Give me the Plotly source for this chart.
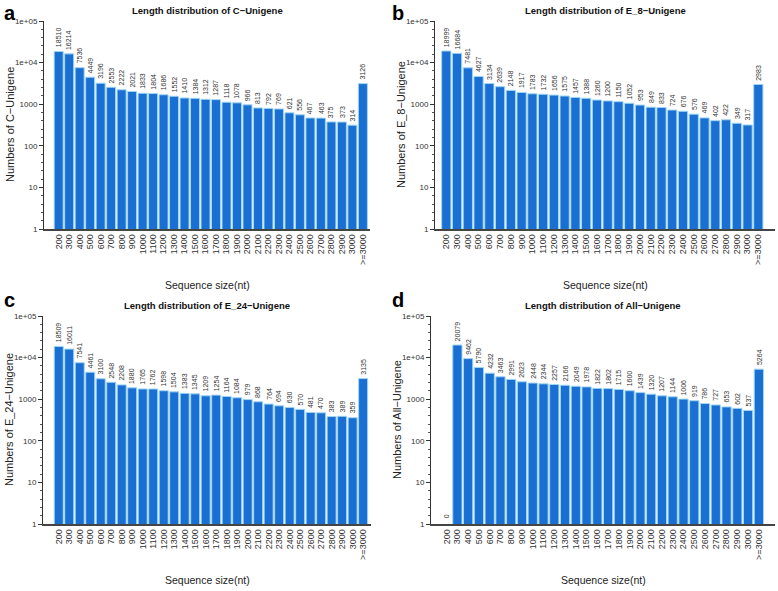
import math
import plotly.graph_objects as go

categories = [str(v) for v in range(200, 3001, 100)] + [">=3000"]

c_unigene = [18510, 16214, 7536, 4449, 3196, 2553, 2222, 2021, 1833, 1804, 1686, 1552, 1410, 1384,
             1312, 1287, 1118, 1078, 966, 813, 792, 769, 621, 556, 467, 463, 375, 373, 314, 3126]
e8_unigene = [18999, 16684, 7481, 4627, 3134, 2639, 2148, 1917, 1783, 1732, 1656, 1575, 1457, 1388,
              1260, 1200, 1150, 1052, 953, 849, 833, 724, 676, 576, 469, 402, 422, 349, 317, 2983]
e24_unigene = [18509, 16011, 7541, 4461, 3100, 2548, 2208, 1880, 1765, 1762, 1598, 1504, 1383, 1345,
               1209, 1254, 1164, 1084, 979, 868, 764, 694, 630, 570, 481, 470, 383, 389, 359, 3135]
all_unigene = [0, 20079, 9462, 5790, 4232, 3463, 2991, 2623, 2448, 2344, 2257, 2166, 2049, 1978,
               1822, 1802, 1715, 1600, 1439, 1320, 1207, 1144, 1006, 919, 786, 727, 653, 602, 537, 5264]

titles = ["Length distribution of C\u2212Unigene", "Length distribution of E_8\u2212Unigene",
          "Length distribution of E_24\u2212Unigene", "Length distribution of All\u2212Unigene"]
ylabels = ["Numbers of C\u2212Unigene", "Numbers of E_8\u2212Unigene",
           "Numbers of E_24\u2212Unigene", "Numbers of All\u2212Unigene"]
xlabel = "Sequence size(nt)"
letters = ["a", "b", "c", "d"]
ytickvals = [1, 10, 100, 1000, 10000, 100000]
yticktext = ["1", "10", "100", "1000", "1e+04", "1e+05"]

W, H = 778, 591
FONT = "Liberation Sans, Arial, sans-serif"

# panel geometry in pixels: (x_left, x_right, y_top, y_bottom, xrange)
panels = [
    (44, 370, 21, 229, [-1.4, 29.68]),
    (435, 775, 21, 229, [-1.05, 30.55]),
    (43, 371, 316, 524, [-1.5, 29.75]),
    (431, 775, 316, 524, [-1.45, 30.5]),
]
series = [c_unigene, e8_unigene, e24_unigene, all_unigene]

minor_vals = []
for k in range(5):
    for f in [0.2, 0.4, 0.6, 0.8]:
        minor_vals.append(10 ** (k + f))

fig = go.Figure()
annotations = []
layout = {}
for i, (vals, (xl, xr, yt, yb, xr_range)) in enumerate(zip(series, panels)):
    n = "" if i == 0 else str(i + 1)
    xa, ya = "x" + n, "y" + n
    fig.add_trace(go.Bar(
        x=categories, y=[v if v > 0 else None for v in vals],
        xaxis=xa, yaxis=ya,
        marker=dict(color="#1a6fd2", line=dict(color="#9fd6f5", width=1)),
        showlegend=False, hoverinfo="x+y",
    ))
    layout["xaxis" + n] = dict(
        domain=[xl / W, xr / W], anchor=ya, range=xr_range, type="category",
        tickmode="array", tickvals=categories, ticktext=categories,
        tickangle=-90, tickfont=dict(size=9, color="#333", family=FONT),
        showline=True, linecolor="#444", linewidth=1.5, ticks="", showgrid=False,
        zeroline=False, fixedrange=True, automargin=False,
    )
    layout["yaxis" + n] = dict(
        domain=[1 - yb / H, 1 - yt / H], anchor=xa, type="log", range=[0, 5],
        tickvals=ytickvals, ticktext=yticktext, ticks="outside", ticklen=4, tickcolor="#333",
        tickfont=dict(size=8, color="#333", family=FONT),
        minor=dict(tickvals=minor_vals, ticks="outside", ticklen=2, tickcolor="#555"),
        showline=True, linecolor="#333", linewidth=1, showgrid=False, zeroline=False,
        automargin=False, fixedrange=True,
    )
    for j, v in enumerate(vals):
        annotations.append(dict(
            x=j, y=0.03 if v <= 0 else math.log10(v), xref=xa, yref=ya,
            text=str(v), textangle=-90, showarrow=False, yanchor="bottom", yshift=2,
            font=dict(size=7, color="#333", family=FONT),
        ))
    # panel title
    annotations.append(dict(
        x=(xl + xr) / 2 / W, y=1 - (yt - 11) / H, xref="paper", yref="paper",
        text="<b>" + titles[i] + "</b>", showarrow=False, xanchor="center", yanchor="middle",
        font=dict(size=9.5, color="#111", family=FONT),
    ))
    # x axis title
    annotations.append(dict(
        x=(xl + xr) / 2 / W, y=1 - (yb + 56) / H, xref="paper", yref="paper",
        text=xlabel, showarrow=False, xanchor="center", yanchor="middle",
        font=dict(size=10.5, color="#222", family=FONT),
    ))
    # y axis title
    annotations.append(dict(
        x=(xl - 34) / W, y=1 - (yt + yb) / 2 / H, xref="paper", yref="paper",
        text=ylabels[i], textangle=-90, showarrow=False, xanchor="center", yanchor="middle",
        font=dict(size=11, color="#222", family=FONT),
    ))
    lx = 2 if i % 2 == 0 else 390
    ly = 0 if i < 2 else 287
    annotations.append(dict(
        x=lx / W, y=1 - ly / H, xref="paper", yref="paper", text="<b>" + letters[i] + "</b>",
        showarrow=False, xanchor="left", yanchor="top",
        font=dict(size=20, color="#000", family=FONT),
    ))

fig.update_layout(
    width=W, height=H, margin=dict(l=0, r=0, t=0, b=0, autoexpand=False),
    paper_bgcolor="white", plot_bgcolor="white", bargap=0.14,
    annotations=annotations, font=dict(family=FONT), **layout,
)
fig.write_html(
    "out.html",
    config={"displayModeBar": False},
    post_script="document.body.style.margin='0';document.body.style.overflow='hidden';",
)
